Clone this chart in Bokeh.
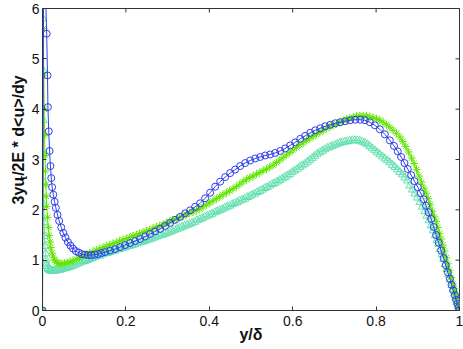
from math import pi
from bokeh.plotting import figure
from bokeh.layouts import row
from bokeh.models import Range1d, FixedTicker
from bokeh.core.properties import value
from bokeh.embed import file_html
from bokeh.resources import INLINE

# ---------------- data ----------------
x_ticks = [0, 0.2, 0.4, 0.6, 0.8, 1]
x_tick_labels = ["0", "0.2", "0.4", "0.6", "0.8", "1"]
y_ticks = [0, 1, 2, 3, 4, 5, 6]
y_tick_labels = ["0", "1", "2", "3", "4", "5", "6"]
x_label = "y/δ"
y_label_parts = ["3yu", "τ", "/2E * d<u>/dy"]

blue_x = [0.000, 0.003, 0.007, 0.010, 0.012, 0.013, 0.015, 0.017, 0.019, 0.021,
          0.023, 0.026, 0.029, 0.032, 0.036, 0.040, 0.045, 0.050, 0.055, 0.061,
          0.067, 0.073, 0.080, 0.087, 0.094, 0.101, 0.109, 0.117, 0.125, 0.133,
          0.141, 0.150, 0.162, 0.174, 0.186, 0.198, 0.210, 0.222, 0.234, 0.246,
          0.258, 0.270, 0.282, 0.294, 0.306, 0.318, 0.330, 0.342, 0.354, 0.366,
          0.378, 0.390, 0.402, 0.414, 0.426, 0.438, 0.450, 0.462, 0.474, 0.486,
          0.498, 0.510, 0.522, 0.534, 0.546, 0.558, 0.570, 0.582, 0.594, 0.606,
          0.618, 0.630, 0.642, 0.654, 0.666, 0.678, 0.690, 0.702, 0.714, 0.726,
          0.738, 0.750, 0.762, 0.773, 0.785, 0.797, 0.809, 0.821, 0.833, 0.843,
          0.852, 0.860, 0.868, 0.876, 0.884, 0.892, 0.900, 0.907, 0.914, 0.920,
          0.926, 0.932, 0.938, 0.944, 0.950, 0.956, 0.962, 0.967, 0.972, 0.977,
          0.981, 0.985, 0.989, 0.992, 0.995, 0.998, 1.000]
blue_y = [0.00, 7.60, 6.40, 5.50, 4.67, 4.04, 3.56, 3.17, 2.87, 2.63,
          2.45, 2.30, 2.16, 2.04, 1.90, 1.78, 1.65, 1.54, 1.45, 1.36,
          1.29, 1.23, 1.18, 1.15, 1.12, 1.11, 1.10, 1.10, 1.11, 1.12,
          1.14, 1.16, 1.19, 1.22, 1.26, 1.30, 1.34, 1.38, 1.42, 1.47,
          1.52, 1.57, 1.62, 1.68, 1.74, 1.80, 1.86, 1.93, 1.99, 2.06,
          2.13, 2.23, 2.34, 2.46, 2.56, 2.65, 2.73, 2.80, 2.87, 2.93,
          2.98, 3.02, 3.05, 3.08, 3.10, 3.13, 3.17, 3.22, 3.28, 3.34,
          3.41, 3.47, 3.53, 3.58, 3.62, 3.66, 3.69, 3.72, 3.74, 3.76,
          3.78, 3.79, 3.79, 3.78, 3.74, 3.68, 3.60, 3.50, 3.38, 3.27,
          3.16, 3.05, 2.93, 2.81, 2.69, 2.57, 2.45, 2.33, 2.21, 2.08,
          1.95, 1.82, 1.66, 1.50, 1.35, 1.19, 1.04, 0.90, 0.76, 0.63,
          0.51, 0.40, 0.30, 0.21, 0.13, 0.06, 0.00]

green_x = [0.000, 0.001, 0.002, 0.003, 0.004, 0.005, 0.006, 0.007, 0.008, 0.009,
           0.010, 0.012, 0.014, 0.016, 0.018, 0.020, 0.023, 0.026, 0.029, 0.033,
           0.037, 0.042, 0.047, 0.053, 0.059, 0.066, 0.073, 0.081, 0.089, 0.097,
           0.105, 0.113, 0.121, 0.129, 0.137, 0.145, 0.153, 0.161, 0.169, 0.177,
           0.185, 0.193, 0.201, 0.209, 0.217, 0.225, 0.233, 0.241, 0.249, 0.257,
           0.265, 0.273, 0.281, 0.289, 0.297, 0.305, 0.313, 0.321, 0.329, 0.337,
           0.345, 0.353, 0.361, 0.369, 0.377, 0.385, 0.393, 0.401, 0.409, 0.417,
           0.425, 0.433, 0.441, 0.449, 0.457, 0.465, 0.473, 0.481, 0.489, 0.497,
           0.505, 0.513, 0.521, 0.529, 0.537, 0.545, 0.553, 0.561, 0.569, 0.577,
           0.585, 0.593, 0.601, 0.609, 0.617, 0.625, 0.633, 0.641, 0.649, 0.657,
           0.665, 0.673, 0.681, 0.689, 0.697, 0.705, 0.713, 0.721, 0.729, 0.737,
           0.745, 0.753, 0.761, 0.769, 0.777, 0.785, 0.793, 0.801, 0.809, 0.817,
           0.825, 0.833, 0.841, 0.849, 0.857, 0.864, 0.871, 0.878, 0.885, 0.891,
           0.897, 0.903, 0.909, 0.915, 0.920, 0.925, 0.930, 0.935, 0.940, 0.944,
           0.948, 0.952, 0.956, 0.960, 0.964, 0.968, 0.972, 0.976, 0.980, 0.984,
           0.987, 0.990, 0.993, 0.996, 0.998, 1.000]
green_y = [0.00, 8.00, 5.60, 4.67, 4.00, 3.48, 3.08, 2.77, 2.50, 2.27,
           2.07, 1.85, 1.65, 1.49, 1.36, 1.25, 1.14, 1.06, 1.00, 0.96,
           0.94, 0.93, 0.93, 0.94, 0.95, 0.97, 0.99, 1.02, 1.05, 1.08,
           1.11, 1.14, 1.17, 1.20, 1.22, 1.25, 1.28, 1.30, 1.33, 1.35,
           1.38, 1.40, 1.43, 1.45, 1.48, 1.50, 1.53, 1.55, 1.58, 1.60,
           1.63, 1.66, 1.68, 1.71, 1.74, 1.77, 1.80, 1.82, 1.85, 1.88,
           1.91, 1.94, 1.96, 1.99, 2.02, 2.06, 2.10, 2.14, 2.18, 2.22,
           2.26, 2.30, 2.34, 2.38, 2.42, 2.46, 2.51, 2.56, 2.60, 2.64,
           2.67, 2.71, 2.74, 2.78, 2.81, 2.85, 2.89, 2.94, 2.99, 3.04,
           3.09, 3.14, 3.19, 3.24, 3.29, 3.33, 3.38, 3.42, 3.46, 3.50,
           3.54, 3.58, 3.62, 3.65, 3.68, 3.71, 3.74, 3.77, 3.80, 3.82,
           3.84, 3.86, 3.87, 3.87, 3.86, 3.85, 3.83, 3.81, 3.78, 3.74,
           3.69, 3.64, 3.58, 3.52, 3.45, 3.36, 3.26, 3.15, 3.03, 2.92,
           2.80, 2.67, 2.55, 2.43, 2.33, 2.22, 2.10, 1.97, 1.86, 1.77,
           1.65, 1.53, 1.42, 1.30, 1.18, 1.05, 0.93, 0.80, 0.66, 0.53,
           0.43, 0.33, 0.23, 0.13, 0.07, 0.00]

teal_x = [0.0000, 0.0004, 0.0008, 0.0012, 0.0016, 0.0020, 0.0026, 0.0032, 0.0040, 0.0050,
          0.0060, 0.0072, 0.0085, 0.0100, 0.0115, 0.0130, 0.0150, 0.0170, 0.0195, 0.0220,
          0.0250, 0.0280, 0.0310, 0.0345, 0.0380, 0.0420, 0.0460, 0.0500, 0.0545, 0.0590,
          0.0640, 0.0690, 0.0740, 0.0790, 0.0845, 0.0900, 0.0955, 0.1010, 0.107, 0.113,
          0.119, 0.125, 0.131, 0.137, 0.143, 0.149, 0.155, 0.161, 0.167, 0.173,
          0.179, 0.185, 0.191, 0.197, 0.203, 0.209, 0.215, 0.221, 0.227, 0.233,
          0.239, 0.245, 0.251, 0.257, 0.263, 0.269, 0.275, 0.281, 0.287, 0.293,
          0.299, 0.305, 0.311, 0.317, 0.323, 0.329, 0.335, 0.341, 0.347, 0.353,
          0.359, 0.365, 0.371, 0.377, 0.383, 0.389, 0.395, 0.401, 0.407, 0.413,
          0.419, 0.425, 0.431, 0.437, 0.443, 0.449, 0.455, 0.461, 0.467, 0.473,
          0.479, 0.485, 0.491, 0.497, 0.503, 0.509, 0.515, 0.521, 0.527, 0.533,
          0.539, 0.545, 0.551, 0.557, 0.563, 0.569, 0.575, 0.581, 0.587, 0.593,
          0.599, 0.605, 0.611, 0.617, 0.623, 0.629, 0.635, 0.641, 0.647, 0.653,
          0.659, 0.665, 0.671, 0.677, 0.683, 0.689, 0.695, 0.701, 0.707, 0.713,
          0.719, 0.725, 0.731, 0.737, 0.743, 0.749, 0.755, 0.761, 0.767, 0.773,
          0.779, 0.785, 0.791, 0.797, 0.803, 0.809, 0.815, 0.821, 0.827, 0.833,
          0.839, 0.845, 0.851, 0.857, 0.863, 0.869, 0.875, 0.881, 0.887, 0.893,
          0.899, 0.905, 0.911, 0.917, 0.922, 0.927, 0.932, 0.937, 0.942, 0.946,
          0.950, 0.954, 0.958, 0.962, 0.966, 0.970, 0.974, 0.978, 0.982, 0.985,
          0.988, 0.991, 0.994, 0.997, 1.000]
teal_y = [0.00, 7.50, 5.80, 4.77, 3.78, 3.11, 2.55, 2.10, 1.75, 1.48,
          1.28, 1.13, 1.01, 0.93, 0.88, 0.84, 0.82, 0.80, 0.79, 0.79,
          0.79, 0.79, 0.79, 0.80, 0.80, 0.81, 0.82, 0.83, 0.84, 0.85,
          0.86, 0.88, 0.89, 0.91, 0.93, 0.95, 0.97, 0.98, 1.00, 1.02,
          1.04, 1.06, 1.08, 1.09, 1.11, 1.13, 1.14, 1.16, 1.18, 1.19,
          1.21, 1.22, 1.24, 1.25, 1.27, 1.28, 1.30, 1.31, 1.33, 1.35,
          1.36, 1.38, 1.40, 1.41, 1.43, 1.45, 1.47, 1.49, 1.50, 1.52,
          1.54, 1.56, 1.58, 1.60, 1.62, 1.64, 1.66, 1.68, 1.70, 1.72,
          1.74, 1.76, 1.79, 1.81, 1.83, 1.86, 1.88, 1.90, 1.92, 1.95,
          1.97, 1.99, 2.01, 2.04, 2.06, 2.08, 2.11, 2.13, 2.15, 2.18,
          2.20, 2.22, 2.25, 2.27, 2.30, 2.32, 2.35, 2.37, 2.40, 2.43,
          2.45, 2.48, 2.51, 2.53, 2.56, 2.59, 2.62, 2.65, 2.68, 2.71,
          2.75, 2.78, 2.81, 2.85, 2.88, 2.91, 2.95, 2.99, 3.03, 3.07,
          3.11, 3.14, 3.17, 3.20, 3.23, 3.25, 3.27, 3.29, 3.31, 3.33,
          3.34, 3.35, 3.36, 3.37, 3.38, 3.38, 3.38, 3.37, 3.35, 3.33,
          3.30, 3.26, 3.22, 3.18, 3.14, 3.10, 3.06, 3.02, 2.98, 2.94,
          2.89, 2.85, 2.80, 2.75, 2.70, 2.64, 2.58, 2.48, 2.40, 2.32,
          2.24, 2.15, 2.06, 1.97, 1.88, 1.79, 1.69, 1.59, 1.49, 1.40,
          1.32, 1.22, 1.12, 1.02, 0.92, 0.82, 0.71, 0.61, 0.50, 0.42,
          0.34, 0.25, 0.17, 0.08, 0.00]

BLUE = "#2f3fee"
GREEN = "#62e600"
TEAL = "#62e0b0"
AXIS = "#333333"
TXT = "#111111"
FONT = "Liberation Sans"

# ---------------- main figure ----------------
p = figure(width=435, height=349, x_range=Range1d(0, 1), y_range=Range1d(0, 6),
           output_backend="svg", toolbar_location=None,
           min_border_left=14, min_border_right=4, min_border_top=8, min_border_bottom=39)
p.xgrid.visible = False
p.ygrid.visible = False
p.outline_line_color = AXIS
p.background_fill_color = "white"
p.border_fill_color = "white"

for ax in (p.xaxis[0], p.yaxis[0]):
    ax.axis_line_color = AXIS
    ax.major_tick_line_color = AXIS
    ax.major_tick_in = 4
    ax.major_tick_out = 0
    ax.minor_tick_line_color = None
    ax.major_label_text_font = FONT
    ax.major_label_text_font_size = "14px"
    ax.major_label_text_color = TXT

p.xaxis[0].ticker = FixedTicker(ticks=x_ticks)
p.xaxis[0].major_label_overrides = dict(zip(x_ticks, x_tick_labels))
p.xaxis[0].major_label_standoff = 5
p.xaxis[0].axis_label = x_label
p.xaxis[0].axis_label_text_font = FONT
p.xaxis[0].axis_label_text_font_size = "16px"
p.xaxis[0].axis_label_text_font_style = "bold"
p.xaxis[0].axis_label_text_color = TXT
p.xaxis[0].axis_label_standoff = -3

p.yaxis[0].ticker = FixedTicker(ticks=y_ticks)
p.yaxis[0].major_label_overrides = dict(zip(y_ticks, y_tick_labels))
p.yaxis[0].major_label_standoff = 3

# inward tick marks on the right and top edges of the box
p.scatter([1] * len(y_ticks), y_ticks, marker="dash", size=8, line_color=AXIS, line_width=1)
p.scatter(x_ticks, [6] * len(x_ticks), marker="dash", angle=pi / 2, size=8,
          line_color=AXIS, line_width=1)

# series: teal triangles, green asterisks, blue circles
p.line(teal_x, teal_y, line_color=TEAL, line_width=1)
p.scatter(teal_x, teal_y, marker="triangle", size=8, line_color=TEAL,
          fill_color=None, line_width=1)
p.line(green_x, green_y, line_color=GREEN, line_width=1)
p.scatter(green_x, green_y, marker="asterisk", size=8, line_color=GREEN, line_width=1)
p.line(blue_x, blue_y, line_color=BLUE, line_width=1)
p.scatter(blue_x, blue_y, marker="circle", size=7, line_color=BLUE,
          fill_color=None, line_width=1)

# ---------------- y-axis title strip (to allow the subscript) ----------------
yl = figure(width=28, height=349, x_range=Range1d(0, 28), y_range=Range1d(0, 349),
            output_backend="svg", toolbar_location=None,
            x_axis_location=None, y_axis_location=None,
            min_border_left=0, min_border_right=0, min_border_top=0, min_border_bottom=0)
yl.xgrid.visible = False
yl.ygrid.visible = False
yl.outline_line_color = None
yl.background_fill_color = "white"
yl.border_fill_color = "white"

txt_kw = dict(angle=pi / 2, text_font=value(FONT), text_font_style=value("bold"),
              text_baseline=value("alphabetic"), text_align=value("left"), text_color=TXT)
yl.text(x=[18.4], y=[122.5], text=[y_label_parts[0]], text_font_size=value("16px"), **txt_kw)
yl.text(x=[22.4], y=[150.1], text=[y_label_parts[1]], text_font_size=value("11px"), **txt_kw)
yl.text(x=[18.4], y=[155.6], text=[y_label_parts[2]], text_font_size=value("16px"), **txt_kw)

layout = row(yl, p, spacing=0)
open("out.html", "w").write(file_html(layout, INLINE))
